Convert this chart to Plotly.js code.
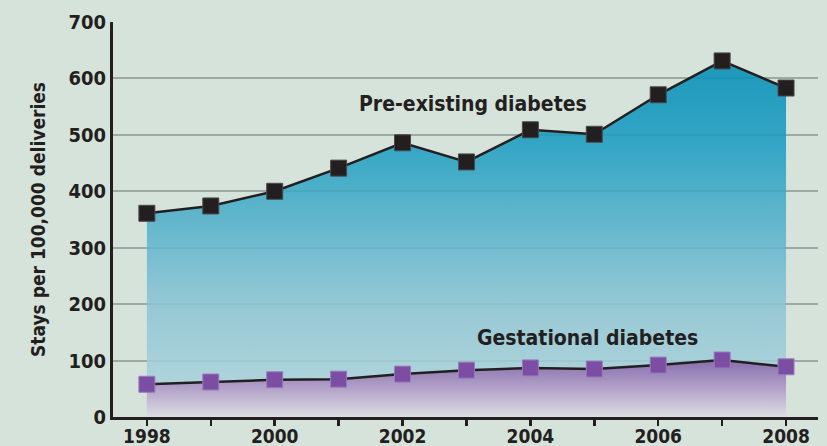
<!DOCTYPE html>
<html><head><meta charset="utf-8">
<script src="https://cdn.plot.ly/plotly-3.0.1.min.js"></script>
<style>body{margin:0;background:#d6e3da}</style>
</head><body><div id="c" style="width:827px;height:446px"></div>
<script>
const years = [1998,1999,2000,2001,2002,2003,2004,2005,2006,2007,2008];
const preExisting = [361,374,400,441,486,452,509,501,571,631,583];
const gestational = [58,62,66,67,76,83,87,85,92,101,89];
const xTickLabels = ['1998','','2000','','2002','','2004','','2006','','2008'];
const yTicks = [0,100,200,300,400,500,600,700];

const FONT = '"DejaVu Sans Condensed", "DejaVu Sans", sans-serif';
const traces = [
 {x: years, y: preExisting, type:'scatter', mode:'lines+markers', fill:'tozeroy',
  fillgradient:{type:'vertical', start:0, stop:640,
    colorscale:[[0,'rgba(180,215,222,0.85)'],[0.3,'rgba(140,196,212,0.85)'],[0.75,'rgba(30,158,194,0.88)'],[1,'rgba(6,142,182,0.9)']]},
  line:{color:'#231f20', width:2.5},
  marker:{symbol:'square', size:16, color:'#231f20', line:{color:'#4a4a4a', width:1}},
  hoverinfo:'skip'},
 {x: years, y: gestational, type:'scatter', mode:'lines+markers', fill:'tozeroy',
  fillgradient:{type:'vertical', start:0, stop:100,
    colorscale:[[0,'rgba(222,222,228,0.95)'],[0.5,'rgba(180,160,200,0.95)'],[1,'rgba(134,106,172,0.95)']]},
  line:{color:'#231f20', width:2.5},
  marker:{symbol:'square', size:16, color:'#7b4ea3', line:{color:'#9a7cbc', width:1}},
  hoverinfo:'skip'},
 {x: years, y: preExisting, xaxis:'x2', yaxis:'y', type:'scatter', mode:'markers',
  marker:{opacity:0}, hoverinfo:'skip'}
];
const layout = {
 width:827, height:446, showlegend:false,
 paper_bgcolor:'#d6e3da', plot_bgcolor:'#d6e3da',
 margin:{l:113, r:9, t:22, b:29},
 font:{family:FONT, color:'#231f20'},
 xaxis:{range:[1997.47,2008.5], tickvals:years, ticktext:xTickLabels,
   ticks:'', showgrid:false, showline:true, linecolor:'#231f20', linewidth:3,
   tickfont:{size:19, family:FONT, weight:'bold'}, zeroline:false, fixedrange:true},
 xaxis2:{range:[1997.47,2008.5], overlaying:'x', anchor:'y', side:'bottom',
   tickvals:years, showticklabels:false, ticks:'outside', ticklen:8, tickwidth:2.5, tickcolor:'#231f20',
   showgrid:false, showline:false, zeroline:false},
 yaxis:{range:[0,700], tickvals:yTicks, showgrid:true, gridcolor:'#9ea8a4', gridwidth:2,
   showline:true, linecolor:'#231f20', linewidth:3, ticks:'', zeroline:false,
   tickfont:{size:20, family:FONT, weight:'bold'},
   title:{text:'Stays per 100,000 deliveries', font:{size:19, family:FONT, weight:'bold'}, standoff:18}},
 annotations:[
  {x:2003.1, y:555, xref:'x', yref:'y', text:'Pre-existing diabetes', showarrow:false,
   font:{size:21, family:FONT, weight:'bold', color:'#231f20'}},
  {x:2004.9, y:140, xref:'x', yref:'y', text:'Gestational diabetes', showarrow:false,
   font:{size:21, family:FONT, weight:'bold', color:'#231f20'}}
 ]
};
Plotly.newPlot('c', traces, layout, {displayModeBar:false, staticPlot:true});
</script></body></html>
